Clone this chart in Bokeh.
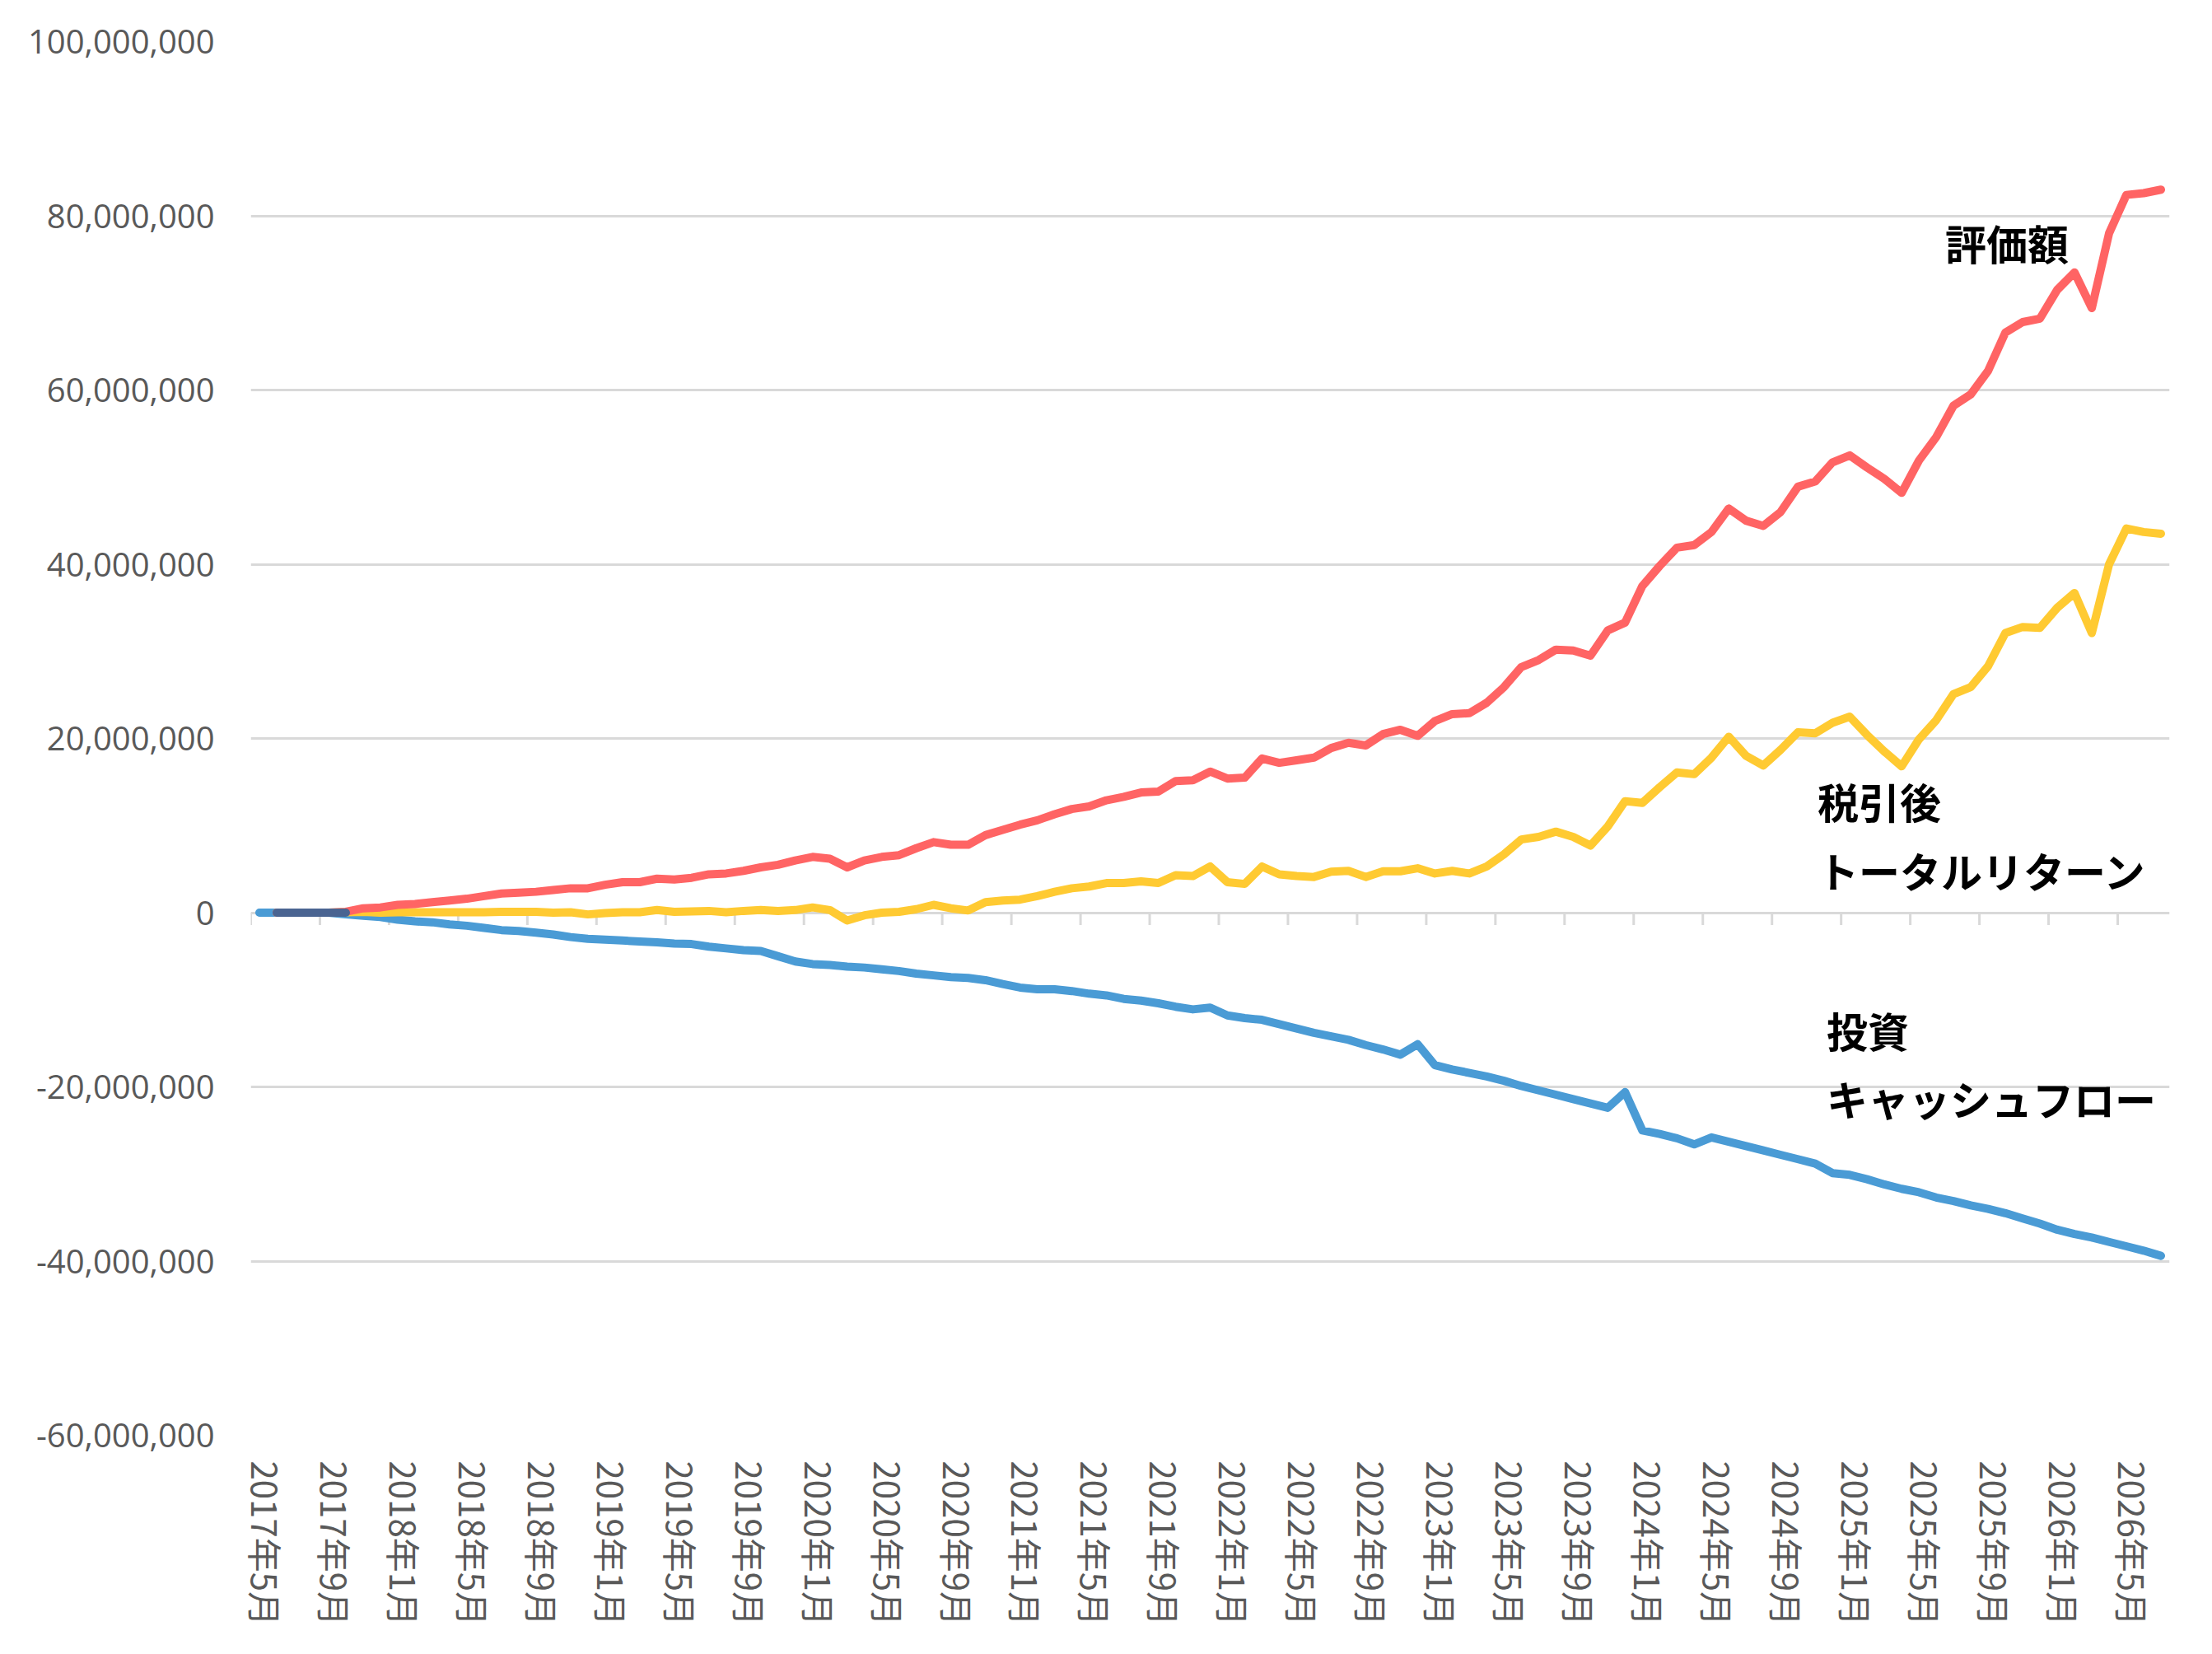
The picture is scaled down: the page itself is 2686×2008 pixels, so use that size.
import math
from bokeh.plotting import figure
from bokeh.models import Range1d, FixedTicker, NumeralTickFormatter, Label
from bokeh.embed import file_html
from bokeh.resources import INLINE

nan = float("nan")

# categories: monthly, 2017年5月 .. 2026年7月
months = [f"{2017 + (4 + k) // 12}年{(4 + k) % 12 + 1}月" for k in range(111)]
label_step = 4

# values in millions of yen
valuation = [
    nan, 0, 0, 0, 0, 0.1, 0.5, 0.6, 0.9, 1.0,
    1.2, 1.4, 1.6, 1.9, 2.2, 2.3, 2.4, 2.6, 2.8, 2.8,
    3.2, 3.5, 3.5, 3.9, 3.8, 4.0, 4.4, 4.5, 4.8, 5.2,
    5.5, 6.0, 6.4, 6.2, 5.2, 6.0, 6.4, 6.6, 7.4, 8.1,
    7.8, 7.8, 8.9, 9.5, 10.1, 10.6, 11.3, 11.9, 12.2, 12.9,
    13.3, 13.8, 13.9, 15.1, 15.2, 16.2, 15.4, 15.5, 17.7, 17.2,
    17.5, 17.8, 18.9, 19.5, 19.2, 20.5, 21.0, 20.3, 22.0, 22.8,
    22.9, 24.1, 25.9, 28.2, 29.0, 30.2, 30.1, 29.5, 32.4, 33.3,
    37.5, 39.8, 41.9, 42.2, 43.7, 46.4, 45.0, 44.4, 46.0, 48.9,
    49.5, 51.7, 52.5, 51.1, 49.8, 48.2, 51.9, 54.6, 58.2, 59.5,
    62.2, 66.6, 67.8, 68.2, 71.5, 73.5, 69.4, 78.0, 82.4, 82.6,
    83.0,
]

after_tax_return = [
    nan, 0, 0, 0, 0, 0.05, 0.1, 0.0, 0.05, 0.05,
    0.05, 0.05, 0.05, 0.05, 0.1, 0.1, 0.1, 0.0, 0.05, -0.2,
    -0.05, 0.05, 0.05, 0.3, 0.1, 0.15, 0.2, 0.05, 0.2, 0.3,
    0.2, 0.3, 0.6, 0.3, -0.9, -0.3, 0.0, 0.1, 0.4, 0.9,
    0.5, 0.25, 1.2, 1.4, 1.5, 1.9, 2.4, 2.8, 3.0, 3.4,
    3.4, 3.6, 3.4, 4.3, 4.2, 5.3, 3.5, 3.3, 5.3, 4.4,
    4.2, 4.1, 4.7, 4.8, 4.1, 4.75, 4.75, 5.1, 4.5, 4.8,
    4.5, 5.3, 6.7, 8.4, 8.7, 9.3, 8.7, 7.7, 9.9, 12.8,
    12.6, 14.4, 16.1, 15.9, 17.8, 20.2, 18.0, 16.9, 18.7, 20.7,
    20.6, 21.8, 22.5, 20.4, 18.5, 16.8, 19.9, 22.1, 25.1, 25.9,
    28.3, 32.1, 32.8, 32.7, 35.0, 36.7, 32.1, 40.0, 44.1, 43.7,
    43.5,
]

investment_cf = [
    0, 0, 0, 0, 0, -0.2, -0.35, -0.5, -0.8, -1.0,
    -1.1, -1.35, -1.5, -1.75, -2.0, -2.1, -2.3, -2.5, -2.8, -3.0,
    -3.1, -3.2, -3.3, -3.4, -3.55, -3.6, -3.9, -4.1, -4.3, -4.4,
    -5.0, -5.6, -5.9, -6.0, -6.2, -6.3, -6.5, -6.7, -7.0, -7.2,
    -7.4, -7.5, -7.75, -8.2, -8.6, -8.8, -8.8, -9.0, -9.3, -9.5,
    -9.9, -10.1, -10.4, -10.8, -11.1, -10.9, -11.8, -12.1, -12.3, -12.8,
    -13.3, -13.8, -14.2, -14.6, -15.2, -15.7, -16.3, -15.1, -17.5, -18.0,
    -18.4, -18.8, -19.3, -19.9, -20.4, -20.9, -21.4, -21.9, -22.4, -20.6,
    -25.0, -25.4, -25.9, -26.6, -25.8, -26.3, -26.8, -27.3, -27.8, -28.3,
    -28.8, -29.9, -30.1, -30.6, -31.2, -31.7, -32.1, -32.7, -33.1, -33.6,
    -34.0, -34.5, -35.1, -35.7, -36.4, -36.9, -37.3, -37.8, -38.3, -38.8,
    -39.4,
]

# short dark series visible at the very start
overlap_line = [nan, 0, 0, 0, 0, 0] + [nan] * 105

y_ticks = [-60e6, -40e6, -20e6, 0, 20e6, 40e6, 60e6, 80e6, 100e6]

N = len(months)
xs = list(range(N))
UNIT = 1e6

W, H = 2670, 1984
ML, MR, MT, MB = 304, 36, 50, 242
frame_h = H - MT - MB

p = figure(width=W, height=H, output_backend="svg", toolbar_location=None,
           x_range=Range1d(-0.5, N - 0.5), y_range=Range1d(y_ticks[0], y_ticks[-1]),
           min_border_left=ML, min_border_right=MR, min_border_top=MT, min_border_bottom=MB)
p.outline_line_color = None
p.background_fill_color = "white"
p.border_fill_color = "white"

GRID = "#d9d9d9"
p.xgrid.visible = False
p.ygrid.ticker = FixedTicker(ticks=y_ticks)
p.ygrid.grid_line_color = GRID
p.ygrid.grid_line_width = 3

# y axis
p.yaxis.ticker = FixedTicker(ticks=y_ticks)
p.yaxis.formatter = NumeralTickFormatter(format="0,0")
p.yaxis.axis_line_color = None
p.yaxis.major_tick_line_color = None
p.yaxis.minor_tick_line_color = None
p.yaxis.major_label_standoff = 38
p.yaxis.major_label_text_font = "Open Sans"
p.yaxis.major_label_text_font_size = "40px"
p.yaxis.major_label_text_color = "#595959"

# x axis (category labels every 4 months)
label_idx = list(range(0, N, label_step))
label_shift = 0.4
label_pos = [i + label_shift for i in label_idx]
p.xaxis.ticker = FixedTicker(ticks=label_pos)
p.xaxis.major_label_overrides = {pos: months[i] for pos, i in zip(label_pos, label_idx)}
p.xaxis.major_label_orientation = -math.pi / 2
p.xaxis.axis_line_color = None
p.xaxis.major_tick_line_color = None
p.xaxis.minor_tick_line_color = None
p.xaxis.major_label_standoff = 25
p.xaxis.major_label_text_font = "Noto Sans CJK JP"
p.xaxis.major_label_text_font_size = "42px"
p.xaxis.major_label_text_color = "#595959"

# category tick marks hanging below the zero line, at category boundaries
tick_len = 15 * (y_ticks[-1] - y_ticks[0]) / frame_h
bounds = [i - 0.5 for i in label_idx]
p.segment(x0=bounds, y0=[0] * len(bounds), x1=bounds, y1=[-tick_len] * len(bounds),
          line_color=GRID, line_width=3)

def scaled(vals):
    return [v * UNIT for v in vals]

LW = 10
p.line(xs, scaled(investment_cf), line_color="#4a9bd5", line_width=LW,
       line_cap="round", line_join="round")
p.line(xs, scaled(after_tax_return), line_color="#ffca32", line_width=LW,
       line_cap="round", line_join="round")
p.line(xs, scaled(valuation), line_color="#ff6464", line_width=LW,
       line_cap="round", line_join="round")
p.line(xs, scaled(overlap_line), line_color="#4a6491", line_width=LW,
       line_cap="round", line_join="round")

def add_label(x, y, text):
    p.add_layout(Label(x=x, y=y, text=text, text_font="Noto Sans CJK JP",
                       text_font_style="bold", text_font_size="50px",
                       text_color="black", text_align="left", text_baseline="middle"))

add_label(97.52, 77.0e6, "評価額")
add_label(90.14, 12.9e6, "税引後")
add_label(90.14, 4.9e6, "トータルリターン")
add_label(90.66, -13.4e6, "投資")
add_label(90.66, -21.3e6, "キャッシュフロー")

open("out.html", "w").write(file_html(p, INLINE))
